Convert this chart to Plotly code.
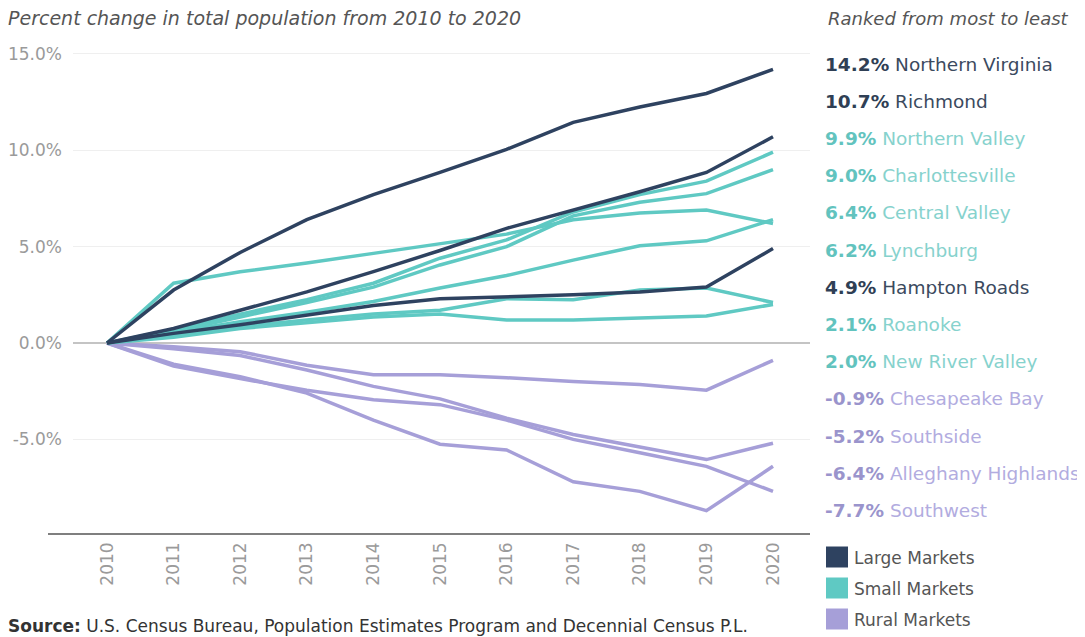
import plotly.graph_objects as go

years = list(range(2010, 2021))

# Large markets
northern_virginia = [0, 2.75, 4.7, 6.4, 7.7, 8.85, 10.05, 11.45, 12.25, 12.95, 14.2]
richmond = [0, 0.75, 1.7, 2.65, 3.7, 4.8, 5.95, 6.9, 7.85, 8.85, 10.7]
hampton_roads = [0, 0.5, 0.95, 1.45, 1.95, 2.3, 2.4, 2.5, 2.65, 2.9, 4.9]
# Small markets
northern_valley = [0, 0.7, 1.5, 2.25, 3.1, 4.4, 5.35, 6.8, 7.7, 8.4, 9.9]
charlottesville = [0, 0.6, 1.35, 2.1, 2.9, 4.05, 5.0, 6.6, 7.3, 7.75, 9.0]
central_valley = [0, 0.55, 1.1, 1.6, 2.15, 2.85, 3.5, 4.3, 5.05, 5.3, 6.4]
lynchburg = [0, 3.1, 3.7, 4.15, 4.65, 5.15, 5.65, 6.4, 6.75, 6.9, 6.2]
roanoke = [0, 0.4, 0.85, 1.2, 1.5, 1.7, 2.3, 2.25, 2.75, 2.85, 2.1]
new_river_valley = [0, 0.3, 0.75, 1.05, 1.35, 1.5, 1.2, 1.2, 1.3, 1.4, 2.0]
# Rural markets
chesapeake_bay = [0, -0.2, -0.45, -1.15, -1.65, -1.65, -1.8, -2.0, -2.15, -2.45, -0.9]
southside = [0, -0.3, -0.65, -1.4, -2.25, -2.9, -3.9, -4.75, -5.4, -6.05, -5.2]
alleghany_highlands = [0, -1.1, -1.75, -2.6, -4.0, -5.25, -5.55, -7.2, -7.7, -8.7, -6.4]
southwest = [0, -1.2, -1.85, -2.45, -2.95, -3.2, -4.0, -5.0, -5.7, -6.4, -7.7]

region_names = ["Northern Virginia", "Richmond", "Northern Valley", "Charlottesville",
                "Central Valley", "Lynchburg", "Hampton Roads", "Roanoke",
                "New River Valley", "Chesapeake Bay", "Southside",
                "Alleghany Highlands", "Southwest"]
region_series = [northern_virginia, richmond, northern_valley, charlottesville,
                 central_valley, lynchburg, hampton_roads, roanoke,
                 new_river_valley, chesapeake_bay, southside,
                 alleghany_highlands, southwest]
region_markets = ["Large", "Large", "Small", "Small", "Small", "Small", "Large",
                  "Small", "Small", "Rural", "Rural", "Rural", "Rural"]

market_labels = ["Large Markets", "Small Markets", "Rural Markets"]
market_keys = ["Large", "Small", "Rural"]

y_ticks = [-5, 0, 5, 10, 15]
y_ticktext = ["-5.0%", "0.0%", "5.0%", "10.0%", "15.0%"]

line_colors = {"Large": "#2e4260", "Small": "#5fc9c3", "Rural": "#a69fd8"}
pct_colors = {"Large": "#2f3f55", "Small": "#62c3be", "Rural": "#9a94cc"}
name_colors = {"Large": "#3b4a5e", "Small": "#86d2cd", "Rural": "#b2acdf"}

FONT = "DejaVu Sans"

fig = go.Figure()
for key in ["Rural", "Small", "Large"]:
    for name, vals, mk in zip(region_names, region_series, region_markets):
        if mk != key:
            continue
        fig.add_trace(go.Scatter(
            x=years, y=vals, mode="lines", name=name,
            line=dict(color=line_colors[mk], width=3.5),
            showlegend=False, hoverinfo="skip"))

# The page body has an 8px margin; work in page pixels and shift.
OFF = 8
W, H = 1085 - OFF, 637 - OFF
L, R, T, B = 73 - OFF, 810 - OFF, 44 - OFF, 534 - OFF
plot_h = B - T
plot_w = R - L

def py(p):
    return (B - (p - OFF)) / plot_h

def px(p):
    return ((p - OFF) - L) / plot_w

annotations = []
annotations.append(dict(text="<i>Percent change in total population from 2010 to 2020</i>",
                        xref="paper", yref="paper", x=px(6), y=py(18),
                        xanchor="left", yanchor="middle", showarrow=False,
                        font=dict(family=FONT, size=19, color="#555555")))
annotations.append(dict(text="<i>Ranked from most to least</i>",
                        xref="paper", yref="paper", x=px(826), y=py(18),
                        xanchor="left", yanchor="middle", showarrow=False,
                        font=dict(family=FONT, size=18, color="#555555")))

for i, (name, vals, mk) in enumerate(zip(region_names, region_series, region_markets)):
    txt = (f"<b><span style='color:{pct_colors[mk]}'>{vals[-1]:.1f}%</span></b> "
           f"<span style='color:{name_colors[mk]}'>{name}</span>")
    annotations.append(dict(text=txt, xref="paper", yref="paper",
                            x=px(823), y=py(64 + 37.2 * i),
                            xanchor="left", yanchor="middle", showarrow=False,
                            font=dict(family=FONT, size=18.5)))

shapes = []
for i, (lab, key) in enumerate(zip(market_labels, market_keys)):
    cy = 557 + 31 * i
    shapes.append(dict(type="rect", xref="paper", yref="paper",
                       x0=px(826), x1=px(848), y0=py(cy + 10.5), y1=py(cy - 10.5),
                       fillcolor=line_colors[key], line=dict(width=0)))
    annotations.append(dict(text=lab, xref="paper", yref="paper",
                            x=px(852), y=py(cy + 1), xanchor="left", yanchor="middle",
                            showarrow=False,
                            font=dict(family=FONT, size=17, color="#555555")))

annotations.append(dict(text="<b>Source:</b> U.S. Census Bureau, Population Estimates Program and Decennial Census P.L.",
                        xref="paper", yref="paper", x=px(6), y=py(626),
                        xanchor="left", yanchor="middle", showarrow=False,
                        font=dict(family=FONT, size=17, color="#333333")))

shapes.append(dict(type="line", xref="paper", yref="paper",
                   x0=px(48), x1=1, y0=0, y1=0,
                   line=dict(color="#555555", width=1.5)))

x_per = (773 - 107) / 10.0
x0 = 2010 - (107 - 73) / x_per
x1 = 2020 + (810 - 773) / x_per
y_per = 19.27
y0 = -(534 - 343) / y_per
y1 = (343 - 44) / y_per

fig.update_layout(
    width=W, height=H,
    margin=dict(l=L, r=W - R, t=T, b=H - B, pad=0, autoexpand=False),
    paper_bgcolor="white", plot_bgcolor="white",
    font=dict(family=FONT),
    xaxis=dict(range=[x0, x1], tickvals=years, ticktext=[str(y) for y in years],
               tickangle=-90, showgrid=False, zeroline=False, showline=False,
               ticks="", ticklabelstandoff=4, automargin=False,
               tickfont=dict(family=FONT, size=17, color="#9a9a9a")),
    yaxis=dict(range=[y0, y1], tickvals=y_ticks, ticktext=y_ticktext,
               showgrid=True, gridcolor="#efefef", gridwidth=1,
               zeroline=True, zerolinecolor="#c4c4c4", zerolinewidth=1.5,
               showline=False, ticks="", ticklabelstandoff=10, automargin=False,
               tickfont=dict(family=FONT, size=17, color="#9a9a9a")),
    annotations=annotations, shapes=shapes, showlegend=False,
)

fig.write_html("out.html")
